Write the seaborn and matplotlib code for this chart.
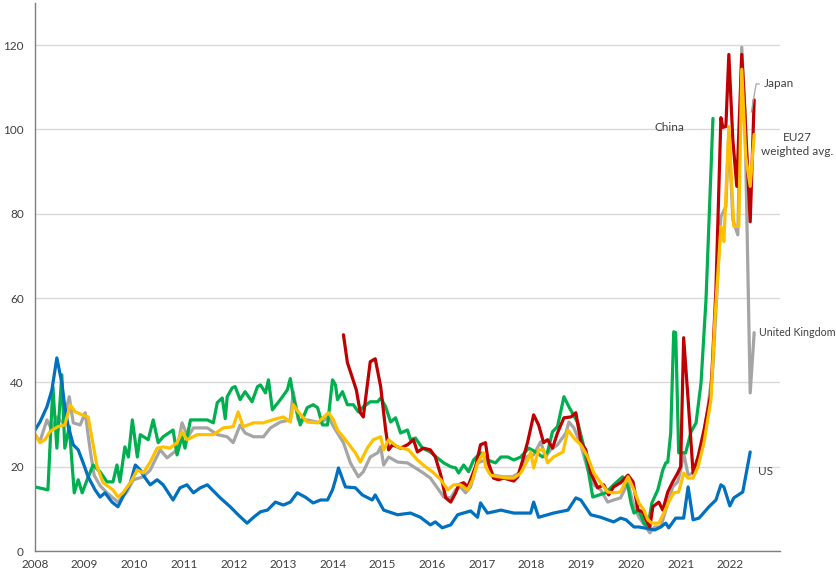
import numpy as np
import pandas as pd
import matplotlib
matplotlib.use("Agg")
import matplotlib.pyplot as plt
import seaborn as sns

# ---------------- data (decimal years, value) ----------------
us_t = [2008.00, 2008.10, 2008.24, 2008.34, 2008.44, 2008.54, 2008.60, 2008.67, 2008.77, 2008.87,
        2008.97, 2009.07, 2009.21, 2009.31, 2009.41, 2009.55, 2009.67, 2009.81, 2009.92, 2010.02,
        2010.12, 2010.22, 2010.32, 2010.46, 2010.58, 2010.78, 2010.92, 2011.06, 2011.19, 2011.33,
        2011.47, 2011.57, 2011.73, 2011.93, 2012.09, 2012.27, 2012.40, 2012.54, 2012.68, 2012.84,
        2013.00, 2013.14, 2013.28, 2013.44, 2013.60, 2013.75, 2013.89, 2013.99, 2014.05, 2014.11,
        2014.25, 2014.45, 2014.59, 2014.79, 2014.85, 2015.02, 2015.30, 2015.56, 2015.76, 2015.96,
        2016.06, 2016.20, 2016.37, 2016.51, 2016.77, 2016.91, 2016.97, 2017.11, 2017.38, 2017.64,
        2017.98, 2018.04, 2018.14, 2018.44, 2018.73, 2018.89, 2018.99, 2019.19, 2019.39, 2019.65,
        2019.79, 2019.90, 2020.06, 2020.16, 2020.48, 2020.60, 2020.70, 2020.76, 2020.90, 2021.06,
        2021.15, 2021.25, 2021.37, 2021.57, 2021.71, 2021.81, 2021.87, 2021.99, 2022.07, 2022.25,
        2022.40]
us_v = [28.7, 30.6, 34.2, 38.2, 45.8, 39.9, 34.2, 29.5, 25.2, 24.0,
        20.9, 17.6, 14.5, 12.8, 13.8, 11.6, 10.5, 13.8, 16.2, 20.4,
        19.2, 17.3, 15.7, 16.9, 15.7, 12.1, 15.0, 15.7, 13.8, 15.0,
        15.7, 14.5, 12.6, 10.5, 8.6, 6.6, 8.0, 9.3, 9.7, 11.6,
        10.9, 11.6, 13.8, 12.8, 11.4, 12.1, 12.1, 14.5, 16.9, 19.7,
        15.2, 15.0, 13.3, 12.1, 13.3, 9.7, 8.6, 9.0, 8.0, 6.2,
        6.9, 5.5, 6.2, 8.6, 9.5, 8.0, 11.4, 9.0, 9.7, 9.0,
        9.0, 11.6, 8.0, 9.0, 9.7, 12.6, 12.1, 8.6, 8.0, 6.9,
        7.8, 7.4, 5.7, 5.7, 5.0, 5.7, 6.6, 5.5, 7.8, 7.8,
        15.2, 7.4, 7.8, 10.5, 12.1, 15.7, 15.2, 10.7, 12.6, 14.0,
        23.5]

cn_t = [2008.00, 2008.26, 2008.36, 2008.44, 2008.54, 2008.60, 2008.69, 2008.79, 2008.87, 2008.95,
        2009.05, 2009.17, 2009.31, 2009.45, 2009.57, 2009.65, 2009.71, 2009.81, 2009.88, 2009.96,
        2010.06, 2010.12, 2010.28, 2010.38, 2010.48, 2010.58, 2010.78, 2010.86, 2010.96, 2011.02,
        2011.13, 2011.27, 2011.47, 2011.59, 2011.67, 2011.77, 2011.83, 2011.87, 2011.97, 2012.03,
        2012.13, 2012.23, 2012.37, 2012.48, 2012.54, 2012.64, 2012.70, 2012.78, 2012.94, 2013.08,
        2013.14, 2013.20, 2013.34, 2013.48, 2013.60, 2013.69, 2013.79, 2013.89, 2013.99, 2014.05,
        2014.09, 2014.19, 2014.29, 2014.41, 2014.51, 2014.61, 2014.75, 2014.90, 2014.96, 2015.06,
        2015.16, 2015.26, 2015.36, 2015.50, 2015.56, 2015.66, 2015.80, 2015.96, 2016.10, 2016.23,
        2016.37, 2016.47, 2016.53, 2016.63, 2016.73, 2016.83, 2016.97, 2017.11, 2017.27, 2017.38,
        2017.52, 2017.64, 2017.78, 2017.94, 2018.08, 2018.22, 2018.32, 2018.42, 2018.52, 2018.65,
        2018.75, 2018.93, 2019.03, 2019.13, 2019.23, 2019.49, 2019.65, 2019.83, 2019.94, 2020.00,
        2020.06, 2020.16, 2020.26, 2020.34, 2020.42, 2020.54, 2020.64, 2020.70, 2020.74, 2020.80,
        2020.86, 2020.90, 2020.96, 2021.10, 2021.21, 2021.31, 2021.41, 2021.51, 2021.65]
cn_v = [15.2, 14.5, 39.0, 24.4, 41.8, 24.4, 29.5, 13.8, 16.9, 13.8,
        16.9, 20.4, 18.8, 16.4, 16.4, 20.4, 16.4, 24.7, 22.3, 31.1,
        22.3, 27.6, 26.4, 31.1, 25.7, 27.1, 28.7, 22.8, 27.1, 24.4,
        31.1, 31.1, 31.1, 30.4, 35.2, 36.3, 31.4, 36.6, 38.7, 39.0,
        35.9, 37.8, 35.4, 39.0, 39.4, 37.5, 40.6, 33.5, 35.9, 38.2,
        40.9, 36.6, 29.9, 34.0, 34.7, 34.0, 29.9, 29.9, 40.6, 39.4,
        35.9, 37.8, 34.7, 34.7, 33.0, 34.2, 35.4, 35.4, 36.3, 34.2,
        30.6, 31.6, 28.0, 28.7, 26.4, 26.8, 24.4, 23.5, 22.1, 20.9,
        20.0, 19.7, 18.5, 20.4, 18.8, 21.6, 23.3, 21.6, 20.9, 22.3,
        22.3, 21.6, 22.3, 24.4, 23.5, 22.3, 23.5, 28.3, 29.5, 36.6,
        34.2, 30.4, 25.7, 19.7, 12.8, 13.8, 15.7, 17.6, 15.2, 11.4,
        9.0, 9.7, 6.6, 5.7, 11.4, 14.5, 19.2, 20.9, 21.1, 28.0,
        52.0, 51.8, 23.3, 23.3, 28.3, 30.4, 39.9, 59.6, 102.6]

jp_t = [2014.21, 2014.29, 2014.39, 2014.47, 2014.55, 2014.61, 2014.75, 2014.85, 2014.96, 2015.06,
        2015.12, 2015.20, 2015.36, 2015.50, 2015.62, 2015.70, 2015.82, 2015.96, 2016.06, 2016.17,
        2016.27, 2016.37, 2016.47, 2016.53, 2016.63, 2016.71, 2016.77, 2016.87, 2016.97, 2017.07,
        2017.13, 2017.23, 2017.33, 2017.44, 2017.64, 2017.72, 2017.82, 2017.92, 2018.04, 2018.14,
        2018.24, 2018.32, 2018.42, 2018.52, 2018.65, 2018.79, 2018.89, 2018.99, 2019.09, 2019.19,
        2019.33, 2019.45, 2019.55, 2019.65, 2019.79, 2019.94, 2020.04, 2020.06, 2020.14, 2020.24,
        2020.30, 2020.38, 2020.44, 2020.56, 2020.64, 2020.74, 2020.84, 2020.94, 2021.00, 2021.06,
        2021.15, 2021.25, 2021.35, 2021.47, 2021.61, 2021.71, 2021.81, 2021.85, 2021.91, 2021.97,
        2022.05, 2022.13, 2022.23, 2022.29, 2022.40, 2022.48]
jp_v = [51.3, 44.7, 41.1, 38.2, 32.8, 31.8, 44.9, 45.6, 39.0, 28.7,
        24.0, 25.2, 24.4, 25.2, 26.4, 23.5, 24.4, 24.0, 22.3, 18.0,
        12.6, 11.6, 13.8, 15.7, 16.2, 15.2, 16.9, 20.0, 25.2, 25.7,
        20.9, 17.3, 16.9, 17.3, 16.6, 17.6, 21.6, 25.9, 32.3, 29.9,
        25.7, 26.4, 24.4, 28.0, 31.6, 31.8, 32.8, 25.9, 24.0, 18.5,
        15.0, 15.7, 13.3, 15.2, 16.2, 18.0, 16.4, 15.2, 9.7, 9.3,
        7.4, 5.7, 10.5, 11.6, 9.7, 14.0, 16.4, 18.5, 20.0, 50.6,
        35.9, 18.5, 22.3, 28.7, 37.5, 62.0, 102.8, 100.5, 100.7, 117.8,
        97.6, 86.5, 117.8, 104.7, 78.1, 107.0]

uk_t = [2008.00, 2008.10, 2008.24, 2008.34, 2008.44, 2008.56, 2008.69, 2008.77, 2008.91, 2009.01,
        2009.11, 2009.19, 2009.31, 2009.45, 2009.67, 2009.85, 2009.98, 2010.18, 2010.32, 2010.52,
        2010.66, 2010.86, 2010.96, 2011.08, 2011.19, 2011.47, 2011.67, 2011.87, 2011.99, 2012.13,
        2012.23, 2012.40, 2012.60, 2012.74, 2012.94, 2013.14, 2013.20, 2013.30, 2013.48, 2013.75,
        2013.91, 2014.01, 2014.21, 2014.35, 2014.51, 2014.61, 2014.75, 2014.90, 2014.96, 2015.02,
        2015.12, 2015.30, 2015.50, 2015.62, 2015.82, 2015.96, 2016.10, 2016.23, 2016.37, 2016.47,
        2016.57, 2016.67, 2016.77, 2016.91, 2017.07, 2017.11, 2017.23, 2017.42, 2017.62, 2017.74,
        2017.88, 2018.04, 2018.18, 2018.28, 2018.38, 2018.52, 2018.69, 2018.75, 2018.85, 2018.99,
        2019.13, 2019.25, 2019.39, 2019.53, 2019.65, 2019.79, 2019.94, 2020.04, 2020.16, 2020.30,
        2020.38, 2020.48, 2020.60, 2020.70, 2020.84, 2020.94, 2021.00, 2021.06, 2021.15, 2021.25,
        2021.35, 2021.45, 2021.55, 2021.65, 2021.81, 2021.91, 2021.97, 2022.05, 2022.15, 2022.23,
        2022.29, 2022.40, 2022.48]
uk_v = [27.6, 26.0, 31.1, 28.7, 31.8, 30.4, 36.6, 30.4, 29.9, 32.8,
        24.0, 18.0, 15.5, 13.8, 11.6, 14.0, 16.9, 17.6, 19.2, 24.0,
        22.1, 24.0, 30.4, 27.1, 29.2, 29.2, 27.6, 27.1, 25.7, 29.9,
        28.0, 27.1, 27.1, 29.2, 30.6, 31.1, 37.8, 31.1, 31.1, 30.4,
        31.8, 29.5, 25.7, 20.9, 17.6, 18.8, 22.3, 23.3, 24.7, 20.4,
        22.3, 21.1, 20.9, 20.0, 18.5, 17.3, 15.0, 12.8, 12.6, 14.5,
        15.2, 13.8, 15.2, 20.9, 21.6, 20.9, 18.0, 17.6, 17.6, 18.5,
        22.3, 22.8, 25.9, 22.3, 24.0, 25.2, 28.0, 30.6, 29.2, 25.2,
        19.2, 15.7, 14.5, 11.6, 12.1, 12.6, 16.2, 11.4, 8.0, 5.7,
        4.3, 5.7, 5.7, 9.7, 15.2, 16.4, 19.2, 23.3, 18.0, 18.5,
        22.3, 26.4, 34.2, 43.7, 79.3, 81.7, 99.3, 78.6, 75.0, 119.5,
        105.5, 37.5, 51.8]

eu_t = [2008.00, 2008.10, 2008.20, 2008.30, 2008.46, 2008.60, 2008.71, 2008.81, 2008.95, 2009.07,
        2009.25, 2009.37, 2009.57, 2009.67, 2009.77, 2009.92, 2010.06, 2010.18, 2010.32, 2010.46,
        2010.58, 2010.72, 2010.86, 2010.96, 2011.06, 2011.27, 2011.59, 2011.79, 2011.99, 2012.09,
        2012.19, 2012.40, 2012.60, 2012.78, 2013.00, 2013.14, 2013.20, 2013.30, 2013.48, 2013.69,
        2013.91, 2014.01, 2014.09, 2014.25, 2014.45, 2014.55, 2014.69, 2014.81, 2014.96, 2015.02,
        2015.12, 2015.30, 2015.52, 2015.70, 2015.86, 2016.00, 2016.17, 2016.31, 2016.43, 2016.57,
        2016.71, 2016.81, 2016.91, 2017.03, 2017.07, 2017.17, 2017.33, 2017.52, 2017.64, 2017.78,
        2017.92, 2017.98, 2018.04, 2018.14, 2018.24, 2018.32, 2018.44, 2018.63, 2018.73, 2018.85,
        2018.99, 2019.13, 2019.25, 2019.39, 2019.53, 2019.65, 2019.79, 2019.94, 2020.06, 2020.16,
        2020.26, 2020.34, 2020.42, 2020.56, 2020.66, 2020.76, 2020.86, 2020.96, 2021.06, 2021.15,
        2021.25, 2021.35, 2021.47, 2021.61, 2021.69, 2021.81, 2021.87, 2021.97, 2022.07, 2022.17,
        2022.23, 2022.31, 2022.40, 2022.48]
eu_v = [27.6, 25.7, 26.4, 28.3, 29.5, 29.9, 34.7, 33.0, 32.3, 31.8,
        20.0, 16.2, 14.5, 12.8, 13.8, 16.2, 19.2, 18.5, 21.1, 24.4,
        24.7, 24.4, 25.7, 28.3, 26.4, 27.6, 27.6, 29.2, 29.5, 33.0,
        29.5, 30.4, 30.4, 31.1, 31.8, 30.6, 34.7, 33.0, 30.6, 30.4,
        32.8, 31.1, 28.7, 26.4, 23.3, 21.1, 24.4, 26.4, 27.1, 24.0,
        26.4, 24.7, 24.0, 21.6, 20.0, 18.8, 16.9, 14.5, 15.7, 15.7,
        14.5, 16.9, 20.9, 23.3, 20.0, 18.0, 17.6, 17.3, 17.3, 18.5,
        21.6, 23.5, 19.7, 24.0, 24.0, 20.9, 22.3, 23.5, 28.7, 26.8,
        25.2, 22.3, 18.5, 16.2, 14.0, 13.8, 14.0, 17.6, 14.5, 11.4,
        9.7, 7.4, 6.6, 6.6, 9.0, 11.6, 13.8, 14.0, 18.5, 17.3,
        17.3, 20.0, 25.7, 35.9, 55.0, 77.0, 73.4, 100.7, 77.0, 77.0,
        114.3, 93.6, 86.5, 98.8]

names = ["United Kingdom", "China", "US", "Japan", "EU27"]
colors = ["#A5A5A5", "#00B050", "#0070C0", "#C00000", "#FFC000"]
year_ticks = list(range(2008, 2024))
year_labels = [str(y) for y in range(2008, 2023)] + [""]
y_ticks = [0, 20, 40, 60, 80, 100, 120]

frames = []
for n, t, v in [("United Kingdom", uk_t, uk_v), ("China", cn_t, cn_v), ("US", us_t, us_v),
                ("Japan", jp_t, jp_v), ("EU27", eu_t, eu_v)]:
    frames.append(pd.DataFrame({"t": t, "v": v, "series": n}))
df = pd.concat(frames, ignore_index=True)

# ---------------- plotting ----------------
sns.set_style("white")
plt.rcParams["font.family"] = ["Lato", "DejaVu Sans"]

fig = plt.figure(figsize=(8.37, 5.73), dpi=100)
ax = fig.add_axes([35 / 837, 22 / 573, 745 / 837, 548 / 573])

sns.lineplot(data=df, x="t", y="v", hue="series", hue_order=names,
             palette=dict(zip(names, colors)), estimator=None, sort=False,
             linewidth=2.3, legend=False, ax=ax)

ax.set_xlim(2008, 2023)
ax.set_ylim(0, 130)
ax.set_xticks(year_ticks)
ax.set_xticklabels(year_labels)
ax.set_yticks(y_ticks)
ax.set_xlabel("")
ax.set_ylabel("")
ax.grid(axis="y", color="#D9D9D9", linewidth=1.0)
ax.set_axisbelow(True)
for s in ["top", "right"]:
    ax.spines[s].set_visible(False)
ax.spines["left"].set_color("#7F7F7F")
ax.spines["bottom"].set_color("#7F7F7F")
ax.spines["left"].set_linewidth(1.0)
ax.spines["bottom"].set_linewidth(1.0)
ax.tick_params(axis="x", direction="out", length=4, width=1, color="#7F7F7F",
               labelsize=8.5, labelcolor="#404040", pad=2)
ax.tick_params(axis="y", length=0, labelsize=8.5, labelcolor="#404040", pad=8)

txt = dict(color="#404040")
ax.text(2020.78, 100.5, "China", ha="center", va="center", fontsize=8.5, **txt)
ax.text(2022.68, 110.8, "Japan", ha="left", va="center", fontsize=8.5, **txt)
ax.plot([2022.59, 2022.52, 2022.42], [110.8, 110.8, 104], color="#A5A5A5", lw=0.9,
        solid_capstyle="butt")
ax.text(2023.35, 96.5, "EU27\nweighted avg.", ha="center", va="center",
        linespacing=1.3, clip_on=False, fontsize=8.5, **txt)
ax.text(2022.57, 51.8, "United Kingdom", ha="left", va="center", clip_on=False,
        fontsize=7.7, **txt)
ax.text(2022.55, 18.8, "US", ha="left", va="center", fontsize=8.5, **txt)

fig.savefig("out.png", dpi=100)
